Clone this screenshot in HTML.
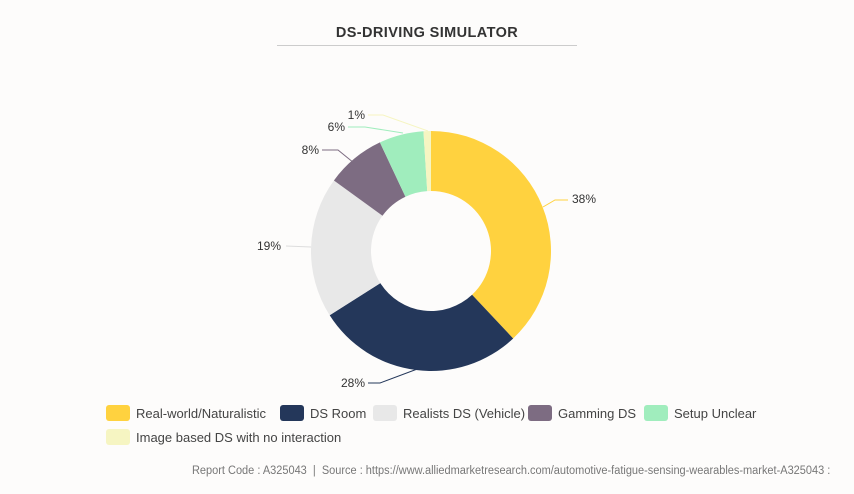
<!DOCTYPE html>
<html><head><meta charset="utf-8"><style>
body{margin:0;background:#fdfcfb;font-family:"Liberation Sans",sans-serif;}
#w{position:relative;width:854px;height:494px;overflow:hidden;}
.t{position:absolute;top:25px;left:0;width:854px;text-align:center;font-weight:bold;font-size:14.5px;letter-spacing:0.4px;color:#333;}
.ln{position:absolute;top:45px;left:277px;width:300px;height:1px;background:#ccc;}
.lg{position:absolute;font-size:13px;color:#444;white-space:nowrap;}
.sw{display:inline-block;width:24px;height:16px;border-radius:3px;vertical-align:-3px;margin-right:6px;}
.ft{position:absolute;top:465px;left:192px;font-size:11.5px;color:#777;white-space:nowrap;transform:scaleX(0.955);transform-origin:0 0;}
</style></head><body><div id="w">
<div class="t">DS-DRIVING SIMULATOR</div><div class="ln"></div>
<svg id="s" width="854" height="494" style="position:absolute;left:0;top:0"></svg>
<div class="lg" style="left:106px;top:405px"><span class="sw" style="background:#ffd23f"></span>Real-world/Naturalistic</div>
<div class="lg" style="left:280px;top:405px"><span class="sw" style="background:#24375a"></span>DS Room</div>
<div class="lg" style="left:373px;top:405px"><span class="sw" style="background:#e8e8e8"></span>Realists DS (Vehicle)</div>
<div class="lg" style="left:528px;top:405px"><span class="sw" style="background:#7d6c82"></span>Gamming DS</div>
<div class="lg" style="left:644px;top:405px"><span class="sw" style="background:#a0edbd"></span>Setup Unclear</div>
<div class="lg" style="left:106px;top:429px"><span class="sw" style="background:#f6f5c2"></span>Image based DS with no interaction</div>
<div class="ft">Report Code : A325043 &nbsp;|&nbsp; Source : https://www.alliedmarketresearch.com/automotive-fatigue-sensing-wearables-market-A325043 :</div>
</div>
<script>
var d=[38,28,19,8,6,1],c=["#ffd23f","#24375a","#e8e8e8","#7d6c82","#a0edbd","#f6f5c2"];
var cx=431,cy=251,R=120,r=60,a=0,h="";
function p(ang,rad){return [cx+rad*Math.sin(ang),cy-rad*Math.cos(ang)];}
d.forEach(function(v,i){var a0=a,a1=a+v/100*2*Math.PI;a=a1;var L=(a1-a0)>Math.PI?1:0;
var o0=p(a0,R),o1=p(a1,R),i1=p(a1,r),i0=p(a0,r);
h+='<path fill="'+c[i]+'" d="M'+o0+' A'+R+','+R+' 0 '+L+' 1 '+o1+' L'+i1+' A'+r+','+r+' 0 '+L+' 0 '+i0+'Z"/>';});
var labs=[[551,199,"38%",1,[[543,207],[555,200],[568,200]]],
[366,383,"28%",0,[[420,368],[380,383],[368,383]]],
[282,246,"19%",0,[[311,247],[286,246]]],
[320,150,"8%",0,[[354,163],[338,150],[322,150]]],
[346,127,"6%",0,[[403,133],[365,127],[348,127]]],
[366,115,"1%",0,[[428,131],[383,115],[368,115]]]];
labs.forEach(function(l,i){var col=c[i];if(i==2)col="#ddd";
h+='<polyline fill="none" stroke="'+col+'" stroke-width="1" points="'+l[4].map(function(q){return q.join(",")}).join(" ")+'"/>';
var x=l[3]?l[4][l[4].length-1][0]+4:l[0]-1;
h+='<text x="'+x+'" y="'+(l[1]+4)+'" font-size="12" fill="#333" text-anchor="'+(l[3]?"start":"end")+'" font-family="Liberation Sans">'+l[2]+'</text>';});
document.getElementById("s").innerHTML=h;
</script></body></html>
